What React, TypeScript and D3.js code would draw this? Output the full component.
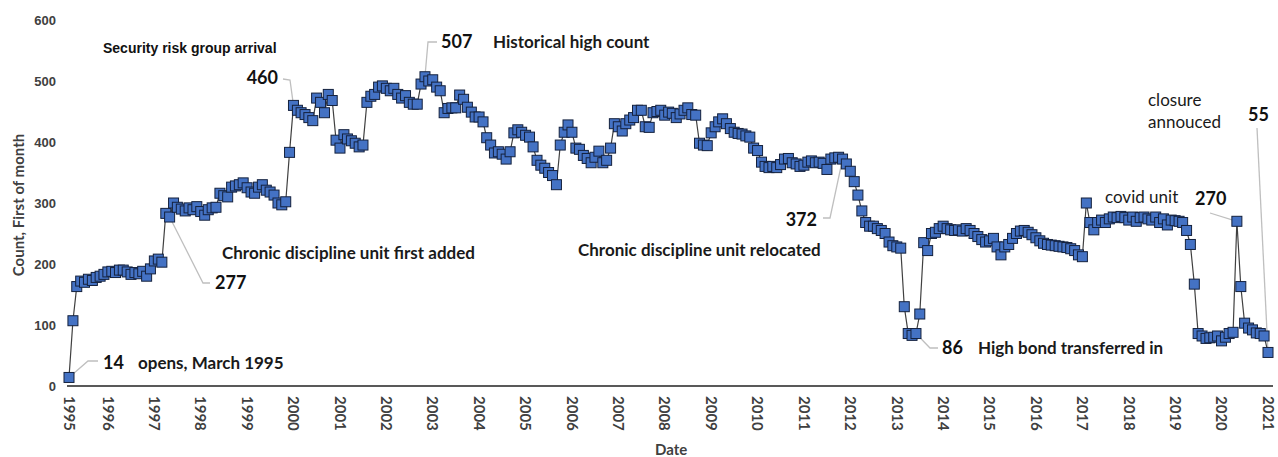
import * as d3 from 'd3';

// monthly head count, first of month (1995 starts in March, 2021 is January only)
const counts1995 = [14, 107, 163, 172, 170, 175, 173, 178, 180, 183];
const counts1996 = [187, 188, 186, 190, 190, 187, 183, 186, 184, 188, 180, 192];
const counts1997 = [205, 208, 203, 283, 277, 300, 293, 290, 287, 292, 289, 294];
const counts1998 = [286, 280, 289, 292, 293, 316, 312, 310, 326, 328, 330, 333];
const counts1999 = [325, 318, 316, 326, 330, 321, 318, 313, 300, 297, 302, 383];
const counts2000 = [460, 452, 448, 445, 440, 435, 472, 465, 448, 478, 468, 403];
const counts2001 = [390, 412, 405, 402, 398, 392, 395, 465, 475, 478, 490, 492];
const counts2002 = [488, 484, 488, 478, 472, 476, 465, 462, 462, 495, 507, 500];
const counts2003 = [502, 490, 484, 448, 455, 456, 456, 477, 470, 457, 449, 441];
const counts2004 = [441, 433, 407, 395, 382, 384, 380, 372, 384, 415, 420, 416];
const counts2005 = [411, 408, 392, 370, 362, 357, 350, 345, 330, 395, 416, 428];
const counts2006 = [416, 390, 388, 378, 373, 366, 375, 385, 366, 370, 390, 430];
const counts2007 = [425, 418, 430, 436, 440, 452, 452, 425, 424, 448, 450, 452];
const counts2008 = [444, 449, 447, 440, 446, 452, 456, 445, 444, 398, 395, 394];
const counts2009 = [415, 425, 433, 438, 430, 422, 416, 414, 413, 410, 408, 390];
const counts2010 = [386, 367, 360, 358, 360, 358, 363, 372, 373, 366, 364, 360];
const counts2011 = [362, 367, 369, 366, 367, 365, 355, 372, 374, 375, 372, 364];
const counts2012 = [352, 335, 313, 287, 268, 262, 262, 258, 255, 250, 236, 230];
const counts2013 = [228, 226, 130, 86, 83, 86, 118, 235, 222, 250, 252, 258];
const counts2014 = [262, 258, 256, 255, 256, 254, 258, 255, 250, 245, 240, 236];
const counts2015 = [238, 242, 228, 215, 228, 232, 242, 250, 254, 255, 252, 248];
const counts2016 = [243, 238, 234, 232, 231, 230, 229, 228, 227, 225, 222, 215];
const counts2017 = [212, 300, 268, 256, 268, 272, 268, 274, 277, 276, 278, 276];
const counts2018 = [272, 277, 270, 276, 277, 274, 272, 277, 268, 274, 264, 272];
const counts2019 = [271, 270, 268, 255, 232, 167, 86, 82, 78, 79, 80, 82];
const counts2020 = [74, 80, 86, 88, 270, 163, 103, 95, 92, 87, 86, 82];
const counts2021 = [55];

const yTicks = [0, 100, 200, 300, 400, 500, 600];
const yearLabels = d3.range(1995, 2022);

const counts = [
  counts1995, counts1996, counts1997, counts1998, counts1999, counts2000,
  counts2001, counts2002, counts2003, counts2004, counts2005, counts2006,
  counts2007, counts2008, counts2009, counts2010, counts2011, counts2012,
  counts2013, counts2014, counts2015, counts2016, counts2017, counts2018,
  counts2019, counts2020, counts2021,
].flat();

const startDate = new Date(1995, 2, 1);
const data = counts.map((v, i) => ({ date: d3.timeMonth.offset(startDate, i), value: v }));

const W = 1278;
const H = 457;
const calibri = 'Lato, "Open Sans", sans-serif';
const arial = '"Liberation Sans", Arial, sans-serif';

const x = d3.scaleTime()
  .domain([startDate, data[data.length - 1].date])
  .range([69, 1268]);
const y = d3.scaleLinear().domain([0, 600]).range([386, 20]);

const pt = (i: number) => [x(data[i].date), y(data[i].value)] as [number, number];

export default function App() {
  const line = d3.line<{ date: Date; value: number }>()
    .x(d => x(d.date))
    .y(d => y(d.value));

  // leader lines: elbow points, then the data point they point at
  const leaders: { path: [number, number][]; idx: number }[] = [
    { path: [[98, 361], [88, 361]], idx: 0 },
    { path: [[283, 79], [290, 80]], idx: 58 },
    { path: [[437, 42], [428, 42]], idx: 92 },
    { path: [[210, 283], [203, 283]], idx: 26 },
    { path: [[823, 218], [830, 218]], idx: 200 },
    { path: [[938, 348], [930, 348]], idx: 219 },
    { path: [[1210, 213]], idx: 302 },
    { path: [[1257, 128]], idx: 310 },
  ];

  const bigNums = [
    { t: '14', x: 103, y: 369, anchor: 'start' },
    { t: '460', x: 278, y: 84, anchor: 'end' },
    { t: '507', x: 441, y: 48, anchor: 'start' },
    { t: '277', x: 215, y: 289, anchor: 'start' },
    { t: '372', x: 817, y: 226, anchor: 'end' },
    { t: '86', x: 942, y: 354, anchor: 'start' },
    { t: '270', x: 1195, y: 205, anchor: 'start' },
    { t: '55', x: 1248, y: 121, anchor: 'start' },
  ];

  const notes = [
    { t: 'opens, March 1995', x: 138, y: 369, w: 700 },
    { t: 'Historical high count', x: 493, y: 48, w: 700 },
    { t: 'Chronic discipline unit first added', x: 222, y: 259, w: 700 },
    { t: 'Chronic discipline unit relocated', x: 578, y: 256, w: 700 },
    { t: 'High bond transferred in', x: 978, y: 354, w: 700 },
    { t: 'covid unit', x: 1105, y: 203, w: 400 },
    { t: 'closure', x: 1148, y: 106, w: 400 },
    { t: 'annouced', x: 1148, y: 128, w: 400 },
  ];

  return (
    <svg width={W} height={H} style={{ position: 'absolute', left: 0, top: 0, background: '#fff' }}>
      {/* y tick labels */}
      {yTicks.map(t => (
        <text key={t} x={56} y={y(t)} dy="0.35em" textAnchor="end"
          fontFamily={arial} fontWeight={700} fontSize={13} fill="#404040">{t}</text>
      ))}

      {/* x axis */}
      <line x1={67} x2={1273} y1={386} y2={386} stroke="#595959" strokeWidth={2} />
      {yearLabels.map(yr => {
        const d = yr === 1995 ? startDate : new Date(yr, 0, 1);
        return (
          <text key={yr} transform={`translate(${x(d)},396) rotate(90)`} dy="0.35em"
            fontFamily={calibri} fontWeight={700} fontSize={15} fill="#404040">{yr}</text>
        );
      })}

      <text x={655} y={455} fontFamily={calibri} fontWeight={700} fontSize={15} fill="#404040">Date</text>
      <text transform="translate(19,205) rotate(-90)" textAnchor="middle" dy="0.35em"
        fontFamily={calibri} fontWeight={700} fontSize={15} fill="#404040">Count, First of month</text>

      {/* leader lines */}
      {leaders.map((l, i) => (
        <polyline key={i} points={[...l.path, pt(l.idx)].map(p => p.join(',')).join(' ')}
          fill="none" stroke="#bfbfbf" strokeWidth={1.3} />
      ))}

      {/* series */}
      <path d={line(data) ?? ''} fill="none" stroke="#404040" strokeWidth={1.2} />
      {data.map((d, i) => (
        <rect key={i} x={x(d.date) - 5} y={y(d.value) - 5} width={10} height={10}
          fill="#4472c4" stroke="#14213d" strokeWidth={1} />
      ))}

      {/* annotations */}
      <text x={103} y={53} fontFamily={arial} fontWeight={700} fontSize={14} fill="#111">Security risk group arrival</text>
      {bigNums.map(n => (
        <text key={n.t} x={n.x} y={n.y} textAnchor={n.anchor as any}
          fontFamily={calibri} fontWeight={700} fontSize={18} fill="#111">{n.t}</text>
      ))}
      {notes.map(n => (
        <text key={n.t} x={n.x} y={n.y} fontFamily={calibri} fontWeight={n.w}
          fontSize={17} fill="#1a1a1a">{n.t}</text>
      ))}
    </svg>
  );
}
